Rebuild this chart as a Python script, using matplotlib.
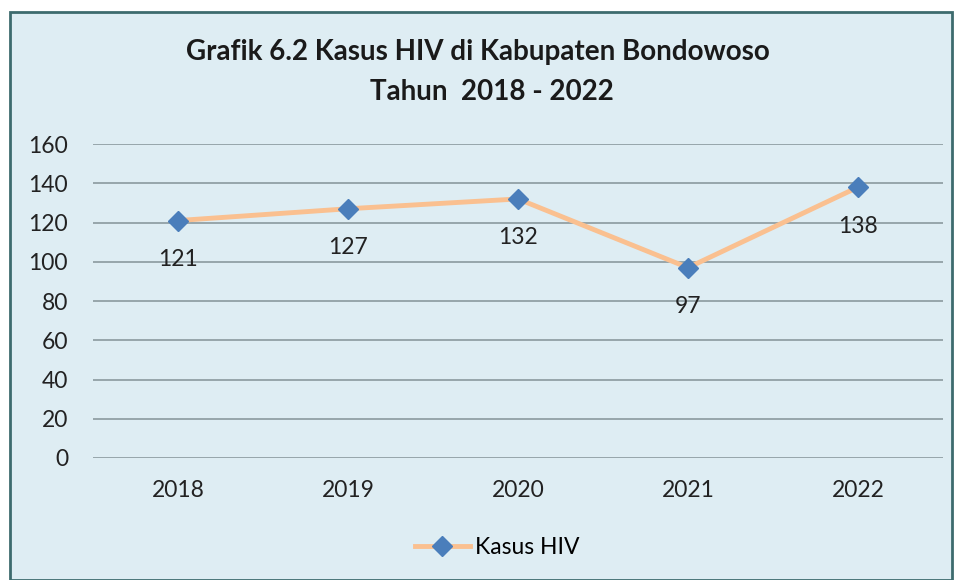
import matplotlib
matplotlib.use('Agg')
import matplotlib.pyplot as plt
from matplotlib.patches import Rectangle

# data
years = ['2018', '2019', '2020', '2021', '2022']
kasus = [121, 127, 132, 97, 138]
yticks = [0, 20, 40, 60, 80, 100, 120, 140, 160]

plt.rcParams['font.family'] = ['Lato', 'DejaVu Sans']

bg = '#deedf3'
fig = plt.figure(figsize=(9.62, 5.80), dpi=100)
fig.patch.set_facecolor('white')
fig.patches.append(Rectangle((10/962, 0.0), 942/962, 1 - 12/580, transform=fig.transFigure,
                             facecolor=bg, edgecolor='#3d6b6e', linewidth=2.0, zorder=-10))

ax = fig.add_axes([93/962, 1 - 458/580, 850/962, 314/580])
ax.set_zorder(1)
ax.set_facecolor('none')
x = list(range(len(years)))
ax.plot(x, kasus, color='#fac090', linewidth=3.5, marker='D', markersize=10,
        markerfacecolor='#4a7ebb', markeredgecolor='#4a7ebb', label='Kasus HIV', zorder=3)
for xi, v in zip(x, kasus):
    ax.annotate(str(v), (xi, v), xytext=(0, -39), textcoords='offset pixels',
                ha='center', va='center', fontsize=16.5, color='#222222')

ax.set_xlim(-0.5, len(years) - 0.5)
ax.set_ylim(0, 160)
ax.set_yticks(yticks)
ax.set_xticks(x)
ax.set_xticklabels(years)
ax.tick_params(axis='both', length=0, labelsize=16.5, colors='#222222')
ax.tick_params(axis='y', pad=18)
ax.tick_params(axis='x', pad=16)
for s in ax.spines.values():
    s.set_visible(False)
ax.grid(axis='y', color='#8a9a9e', linewidth=1.2)
ax.set_axisbelow(True)

fig.text(478/962, 1 - 52/580, 'Grafik 6.2 Kasus HIV di Kabupaten Bondowoso',
         ha='center', va='center', fontsize=20, fontweight='bold', color='#1a1a1a')
fig.text(492/962, 1 - 92/580, 'Tahun  2018 - 2022',
         ha='center', va='center', fontsize=20, fontweight='bold', color='#1a1a1a')

fig.legend(loc='center', bbox_to_anchor=(497/962, 1 - 548/580), frameon=False,
           fontsize=16.5, handlelength=2.4, handletextpad=0.2)

plt.savefig('out.png', dpi=100, facecolor=fig.get_facecolor())
